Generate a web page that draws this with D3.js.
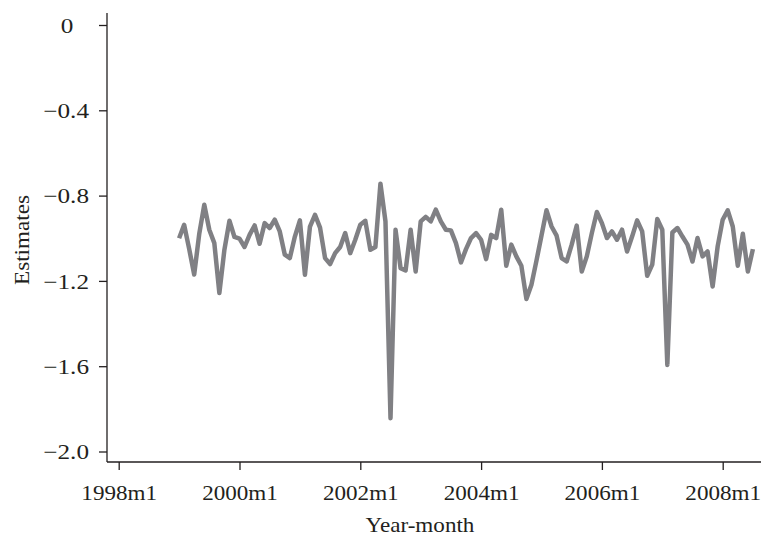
<!DOCTYPE html>
<html>
<head>
<meta charset="utf-8">
<title>Estimates by year-month</title>
<script src="https://d3js.org/d3.v7.min.js"></script>
<style>
  body { margin: 0; background: #fff; }
  svg { display: block; }
  text { font-family: "Liberation Serif", "Times New Roman", serif; fill: #231f20; }
</style>
</head>
<body>
<svg id="chart" width="761" height="537"></svg>
<script>
// monthly series, first value is 1999m1 (months counted from 1998m1 = 0)
const firstMonth = 12;
const estimates = [
  -1.00, -0.937, -1.05, -1.17, -0.98, -0.843, -0.96, -1.023, -1.257, -1.054, -0.918, -0.994,
  -1.002, -1.041, -0.984, -0.94, -1.026, -0.929, -0.952, -0.913, -0.968, -1.077, -1.093, -0.992,
  -0.916, -1.171, -0.945, -0.89, -0.95, -1.093, -1.121, -1.07, -1.041, -0.976, -1.07, -1.007,
  -0.937, -0.918, -1.054, -1.041, -0.744, -0.921, -1.844, -0.96, -1.14, -1.151, -0.96, -1.156,
  -0.921, -0.90, -0.921, -0.866, -0.921, -0.96, -0.963, -1.023, -1.113, -1.051, -0.999, -0.976,
  -1.007, -1.098, -0.984, -0.999, -0.866, -1.129, -1.03, -1.085, -1.129, -1.285, -1.218, -1.105,
  -0.987, -0.869, -0.945, -0.988, -1.093, -1.109, -1.03, -0.941, -1.156, -1.085, -0.976, -0.877,
  -0.929, -0.999, -0.968, -1.007, -0.96, -1.062, -0.992, -0.916, -0.968, -1.176, -1.124, -0.91,
  -0.96, -1.594, -0.973, -0.952, -0.992, -1.03, -1.109, -0.999, -1.085, -1.062, -1.226, -1.038,
  -0.913, -0.869, -0.945, -1.129, -0.979, -1.156, -1.051
];
const xTickMonths = [0, 24, 48, 72, 96, 120];
const xTickLabels = ["1998m1", "2000m1", "2002m1", "2004m1", "2006m1", "2008m1"];
const yTicks = [0, -0.4, -0.8, -1.2, -1.6, -2.0];
const yTickLabels = ["0", "\u22120.4", "\u22120.8", "\u22121.2", "\u22121.6", "\u22122.0"];

const svg = d3.select("#chart");
const axisLeftX = 107, axisBottomY = 462;

const x = d3.scaleLinear().domain([0, 126]).range([118.7, 752.9]);
const y = d3.scaleLinear().domain([-2, 0]).range([451.5, 25]);

let data = estimates.map((v, i) => ({ m: firstMonth + i, v: v }));

// glyphs in the original are a bit wider than plain Times
let widen = function(sel, k) {
    sel.each(function() {
        let w = this.getComputedTextLength();
        d3.select(this).attr("textLength", w * k).attr("lengthAdjust", "spacingAndGlyphs");
    });
};

// y axis
let gy = svg.append("g")
    .attr("transform", `translate(${axisLeftX},0)`)
    .call(d3.axisLeft(y).tickValues(yTicks).tickSize(8).tickPadding(10)
        .tickFormat((d, i) => yTickLabels[i]));
gy.select(".domain").attr("d", `M0,13V${axisBottomY}`);
gy.selectAll("text").attr("font-size", 21).attr("dy", "0.35em").call(widen, 1.2);
gy.selectAll("text").filter((d) => d === 0).attr("x", -40).attr("text-anchor", "middle");

// x axis
let gx = svg.append("g")
    .attr("transform", `translate(0,${axisBottomY})`)
    .call(d3.axisBottom(x).tickValues(xTickMonths).tickSize(8).tickPadding(15)
        .tickFormat((d, i) => xTickLabels[i]));
gx.select(".domain").attr("d", `M${axisLeftX},0H761`);
gx.selectAll("text").attr("font-size", 21).call(widen, 1.1);

svg.selectAll(".domain, .tick line").attr("stroke", "#231f20").attr("stroke-width", 1.3);

// axis titles
svg.append("text")
    .attr("x", 420).attr("y", 532)
    .attr("text-anchor", "middle")
    .attr("font-size", 21)
    .text("Year-month")
    .call(widen, 1.1);

svg.append("text")
    .attr("transform", "translate(29,240) rotate(-90)")
    .attr("text-anchor", "middle")
    .attr("font-size", 21)
    .text("Estimates")
    .call(widen, 1.1);

// series
let line = d3.line().x((d) => x(d.m)).y((d) => y(d.v));
svg.append("path")
    .datum(data)
    .attr("fill", "none")
    .attr("stroke", "#808084")
    .attr("stroke-width", 4.5)
    .attr("stroke-linejoin", "round")
    .attr("d", line);
</script>
</body>
</html>
